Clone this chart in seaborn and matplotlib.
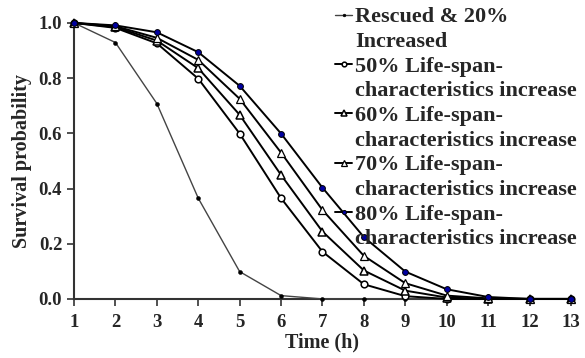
import matplotlib
matplotlib.use("Agg")
import matplotlib.pyplot as plt
from matplotlib.lines import Line2D
import seaborn as sns
import pandas as pd

time_h = [1, 2, 3, 4, 5, 6, 7, 8, 9, 10, 11, 12, 13]
rescued_20 = [1.0, 0.929, 0.708, 0.365, 0.099, 0.012, 0.0, 0.0, 0.0, 0.0, 0.0, 0.0, 0.0]
inc_50 = [1.0, 0.982, 0.926, 0.798, 0.599, 0.365, 0.171, 0.053, 0.010, 0.0, 0.0, 0.0, 0.0]
inc_60 = [1.0, 0.985, 0.936, 0.836, 0.667, 0.449, 0.244, 0.103, 0.030, 0.005, 0.0, 0.0, 0.0]
inc_70 = [1.0, 0.988, 0.946, 0.866, 0.725, 0.530, 0.322, 0.156, 0.057, 0.012, 0.002, 0.0, 0.0]
inc_80 = [1.0, 0.991, 0.966, 0.894, 0.772, 0.599, 0.403, 0.224, 0.099, 0.035, 0.007, 0.0, 0.0]

labels = ["Rescued & 20%\nIncreased",
          "50% Life-span-\ncharacteristics increase",
          "60% Life-span-\ncharacteristics increase",
          "70% Life-span-\ncharacteristics increase",
          "80% Life-span-\ncharacteristics increase"]
series = [rescued_20, inc_50, inc_60, inc_70, inc_80]

sns.set_style("white")
plt.rcParams['font.family'] = ['Liberation Serif', 'DejaVu Serif']
plt.rcParams['font.weight'] = 'bold'

fig = plt.figure(figsize=(5.85, 3.58), dpi=100)
ax = fig.add_axes([0.1265, 0.165, 0.8495, 0.771])

styles = [
    dict(color='#444444', lw=1.0, marker='o', ms=2.8, mfc='black', mec='black', mew=0.4),
    dict(color='black', lw=1.4, marker='o', ms=4.8, mfc='white', mec='black', mew=1.1),
    dict(color='black', lw=1.4, marker='^', ms=5.2, mfc='white', mec='black', mew=1.1),
    dict(color='black', lw=1.4, marker='^', ms=5.2, mfc='white', mec='black', mew=0.9),
    dict(color='black', lw=1.4, marker='o', ms=4.2, mfc='#0000a0', mec='black', mew=0.7),
]

for lab, vals, st in zip(labels, series, styles):
    df = pd.DataFrame({"Time": time_h, "Survival": vals})
    sns.lineplot(data=df, x="Time", y="Survival", ax=ax, label=lab,
                 clip_on=False, zorder=3, **st)

ax.set_xlim(1, 13)
ax.set_ylim(0, 1.0)
ax.set_xticks(time_h)
ax.set_yticks([0.0, 0.2, 0.4, 0.6, 0.8, 1.0])
ax.set_yticklabels(["0.0", "0.2", "0.4", "0.6", "0.8", "1.0"])
for s in ['top', 'right']:
    ax.spines[s].set_visible(False)
for s in ['left', 'bottom']:
    ax.spines[s].set_color('#333333')
    ax.spines[s].set_linewidth(1.5)
ax.tick_params(axis='both', which='major', direction='out', length=5, width=1.2,
               labelsize=13.5, color='#333333', bottom=True, left=True)
ax.tick_params(axis='x', pad=6)
for t in ax.get_xticklabels() + ax.get_yticklabels():
    t.set_fontweight('bold')
ax.set_xlabel("Time (h)", fontsize=14.5, fontweight='bold', labelpad=1)
ax.set_ylabel("Survival probability", fontsize=14.5, fontweight='bold', labelpad=5)

ax.get_legend().remove()
handles, labs = ax.get_legend_handles_labels()
# split two-line labels so each handle sits beside the first line
leg_handles, leg_labels = [], []
for h, l in zip(handles, labs):
    first, second = l.split("\n")
    leg_handles += [h, Line2D([], [], linestyle='none', marker='none')]
    leg_labels += [first, second]
leg = fig.legend(leg_handles, leg_labels, loc='upper left', bbox_to_anchor=(0.553, 1.012),
                 frameon=False, fontsize=16, handlelength=0.8, handletextpad=0.12,
                 labelspacing=0.185, borderpad=0.0, markerscale=0.7)
for t in leg.get_texts():
    t.set_fontweight('bold')

fig.savefig("out.png", dpi=100)
